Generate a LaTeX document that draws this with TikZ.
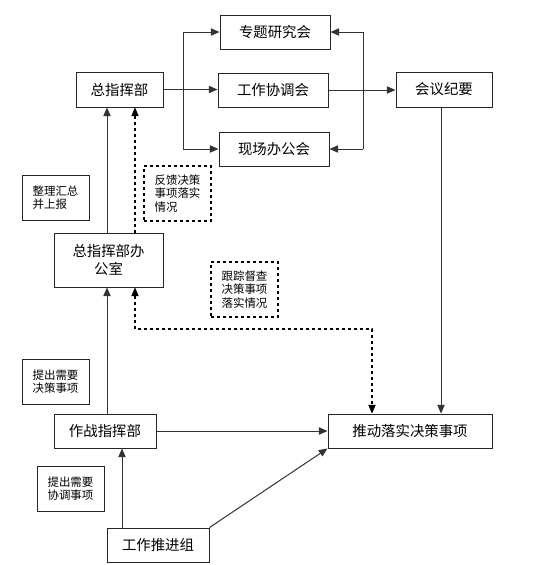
\documentclass[tikz,border=0pt]{standalone}
\usepackage{fontspec}
\setmainfont{Noto Sans CJK SC}
\usetikzlibrary{arrows.meta}
\begin{document}
\begin{tikzpicture}[x=0.75pt,y=-0.75pt,
  bx/.style 2 args={draw=black!85,line width=0.75pt,inner sep=0pt,align=center,
    minimum width=#1*0.75pt,minimum height=#2*0.75pt,font=\fontsize{10.8pt}{13pt}\selectfont},
  sbx/.style 2 args={bx={#1}{#2},align=left,font=\fontsize{8.6pt}{10pt}\selectfont},
  dbx/.style 2 args={sbx={#1}{#2},draw=black,line width=2.2pt,dash pattern=on 2.25pt off 2.25pt},
  ln/.style={draw=black!80,line width=0.75pt},
  arr/.style={ln,-{Triangle[length=6.5pt,width=5.5pt]}},
  dots/.style={draw=black,line width=2.2pt,dash pattern=on 2.25pt off 2.25pt},
  darr/.style={dots,{Triangle[length=6.5pt,width=5.5pt,line width=0.5pt]}-{Triangle[length=6.5pt,width=5.5pt,line width=0.5pt]}},
  darr1/.style={dots,-{Triangle[length=6.5pt,width=5.5pt,line width=0.5pt]}}]
\fill[white] (0,0) rectangle (549,565);
\useasboundingbox (0,0) rectangle (549,565);

\node[bx={110}{34}] (zt) at (275,32) {专题研究会};
\node[bx={110}{34}] (gz) at (273,90) {工作协调会};
\node[bx={110}{34}] (xc) at (274,149) {现场办公会};
\node[bx={87}{35}] (zh) at (119.5,89.5) {总指挥部};
\node[bx={96}{35}] (hy) at (444,89.5) {会议纪要};
\node[dbx={67}{55}] (fk) at (177.5,193.5) {反馈决策\\事项落实\\情况};
\node[sbx={67}{45}] (zl) at (55.5,197.5) {整理汇总\\并上报};
\node[bx={109}{54}] (bgs) at (108.5,260) {总指挥部办\\公室};
\node[dbx={67}{55}] (gzd) at (244.5,289.5) {跟踪督查\\决策事项\\落实情况};
\node[sbx={67}{45}] (tc1) at (55.5,381.5) {提出需要\\决策事项};
\node[bx={102}{34}] (zz) at (105,431) {作战指挥部};
\node[bx={164}{34}] (tl) at (410,431) {推动落实决策事项};
\node[sbx={67}{45}] (tc2) at (70.5,488.5) {提出需要\\协调事项};
\node[bx={102}{34}] (tj) at (158,545) {工作推进组};

\coordinate (lx) at (183,0);
\coordinate (rx) at (363,0);
\coordinate (sx) at (107,0);
\coordinate (dx) at (135,0);
\coordinate (hx) at (441,0);
\coordinate (tx) at (372,0);
\coordinate (jx) at (122,0);
\coordinate (c1) at (135,329);
\coordinate (c2) at (372,329);

% top distribution
\draw[arr] (zh.east) -- (zh.east -| gz.west);
\draw[ln] (zt.west -| lx) -- (xc.west -| lx);
\draw[arr] (zt.west -| lx) -- (zt.west);
\draw[arr] (xc.west -| lx) -- (xc.west);
\draw[arr] (gz.east) -- (gz.east -| hy.west);
\draw[ln] (zt.east -| rx) -- (xc.east -| rx);
\draw[arr] (zt.east -| rx) -- (zt.east);
\draw[arr] (xc.east -| rx) -- (xc.east);

% right down
\draw[arr] (hy.south -| hx) -- (tl.north -| hx);

% left vertical chain
\draw[arr] (bgs.north -| sx) -- (zh.south -| sx);
\draw[arr] (zz.north -| sx) -- (bgs.south -| sx);
\draw[darr1] (bgs.north -| dx) -- (zh.south -| dx);
\draw[darr] (bgs.south -| dx) -- (c1) -- (c2) -- (tl.north -| tx);

% bottom
\draw[arr] (zz.east) -- (zz.east -| tl.west);
\draw[arr] (tj.north -| jx) -- (zz.south -| jx);
\draw[arr] (tj.north east) -- (tl.south west);
\end{tikzpicture}
\end{document}
